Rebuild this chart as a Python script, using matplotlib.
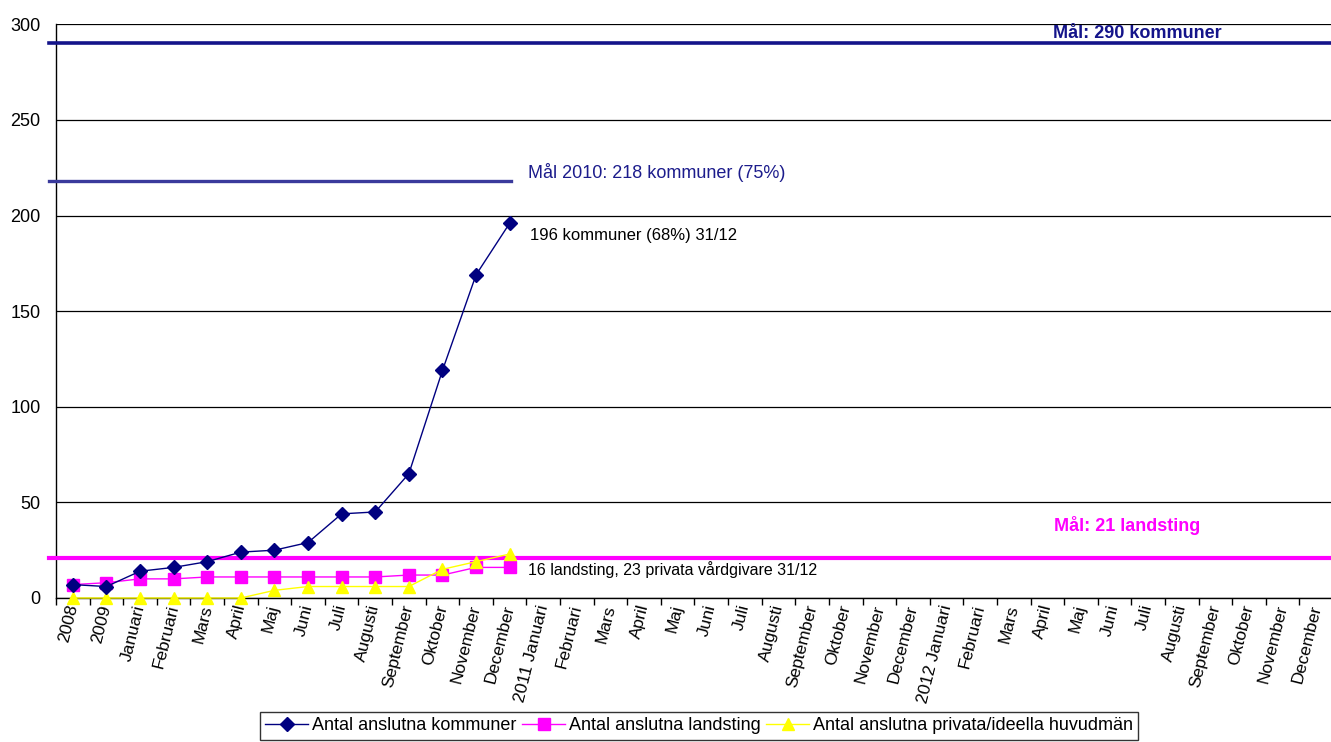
import numpy as np
import matplotlib
matplotlib.use('Agg')
import matplotlib.pyplot as plt

plt.rcParams['font.family'] = ['Liberation Sans', 'DejaVu Sans']

months = ['Januari', 'Februari', 'Mars', 'April', 'Maj', 'Juni', 'Juli',
          'Augusti', 'September', 'Oktober', 'November', 'December']
labels = (['2008', '2009'] + months
          + ['2011 ' + months[0]] + months[1:]
          + ['2012 ' + months[0]] + months[1:])

# anslutna huvudmän per period (2008 .. december 2010)
kommuner = [7, 6, 14, 16, 19, 24, 25, 29, 44, 45, 65, 119, 169, 196]
landsting = [7, 8, 10, 10, 11, 11, 11, 11, 11, 11, 12, 12, 16, 16]
privata = [0, 0, 0, 0, 0, 0, 4, 6, 6, 6, 6, 15, 19, 23]

goal_kommuner = 290
goal_kommuner_2010 = 218
goal_kommuner_2010_pct = 75
goal_landsting = 21

navy = '#000080'
goal_blue = '#14148a'
goal_blue_2010 = '#3a3a9c'
magenta = '#ff00ff'
yellow = '#ffff00'

fig = plt.figure(figsize=(13.31, 7.42), dpi=100)
ax = fig.add_axes([56 / 1331, 144 / 742, 1277 / 1331, 573.7 / 742])

x = np.arange(len(labels))
xs = x[:len(kommuner)]

ax.plot(xs, kommuner, color=navy, lw=1.0, marker='D', ms=7,
        mfc=navy, mec=navy, zorder=5, clip_on=False,
        label='Antal anslutna kommuner')
ax.plot(xs, landsting, color=magenta, lw=1.0, marker='s', ms=8,
        mfc=magenta, mec=magenta, zorder=4, clip_on=False,
        label='Antal anslutna landsting')
ax.plot(xs, privata, color=yellow, lw=1.0, marker='^', ms=9,
        mfc=yellow, mec=yellow, zorder=4, clip_on=False,
        label='Antal anslutna privata/ideella huvudmän')

# mållinjer
x0 = -0.71
x1 = len(labels) - 0.5
ax.plot([x0, x1], [goal_kommuner] * 2, color=goal_blue, lw=2.6,
        clip_on=False, zorder=3)
ax.plot([x0, xs[-1] + 0.05], [goal_kommuner_2010] * 2, color=goal_blue_2010,
        lw=2.4, clip_on=False, zorder=3)
ax.plot([x0, x1], [goal_landsting] * 2, color=magenta, lw=3.0,
        clip_on=False, zorder=3)

ax.annotate('Mål: %d kommuner' % goal_kommuner,
            xy=(0.847, goal_kommuner), xycoords=('axes fraction', 'data'),
            xytext=(0, 10), textcoords='offset pixels',
            ha='center', va='center', fontsize=13, fontweight='bold',
            color=goal_blue)
ax.annotate('Mål 2010: %d kommuner (%d%%)' % (goal_kommuner_2010,
                                             goal_kommuner_2010_pct),
            xy=(xs[-1], goal_kommuner_2010), xytext=(18, 9),
            textcoords='offset pixels', ha='left', va='center',
            fontsize=13, color='#1c1c8c')
ax.annotate('Mål: %d landsting' % goal_landsting,
            xy=(0.839, goal_landsting), xycoords=('axes fraction', 'data'),
            xytext=(0, 32), textcoords='offset pixels',
            ha='center', va='center', fontsize=13, fontweight='bold',
            color=magenta)

pct = round(100 * kommuner[-1] / goal_kommuner)
ax.annotate('%d kommuner (%d%%) 31/12' % (kommuner[-1], pct),
            xy=(xs[-1], kommuner[-1]), xytext=(20, -12),
            textcoords='offset pixels', ha='left', va='center', fontsize=12)
ax.annotate('%d landsting, %d privata vårdgivare 31/12'
            % (landsting[-1], privata[-1]),
            xy=(xs[-1], landsting[-1]), xytext=(18, -2),
            textcoords='offset pixels', ha='left', va='center', fontsize=11.5)

ax.set_xlim(-0.5, len(labels) - 0.5)
ax.set_ylim(0, 300)
ax.set_yticks(range(0, 301, 50))
ax.yaxis.grid(True, color='black', lw=0.9)
ax.set_axisbelow(True)
ax.tick_params(axis='y', length=0, pad=11, labelsize=13)

ax.set_xticks(x)
ax.set_xticklabels(labels, rotation=76, ha='right', va='center',
                   rotation_mode='anchor', fontsize=12.5)
ax.set_xticks(np.arange(-0.5, len(labels), 1), minor=True)
ax.tick_params(axis='x', which='major', length=0, pad=5)
ax.tick_params(axis='x', which='minor', length=5, width=1, color='black')

for side in ('top', 'right'):
    ax.spines[side].set_visible(False)
for side in ('left', 'bottom'):
    ax.spines[side].set_color('black')
    ax.spines[side].set_linewidth(1.0)

leg = fig.legend(loc='upper center', bbox_to_anchor=(699 / 1331, 1 - 712 / 742),
                 ncol=3, fontsize=13, frameon=True, fancybox=False,
                 edgecolor='black', handlelength=2.4, handletextpad=0.2,
                 columnspacing=0.3, borderpad=0.3, borderaxespad=0)
leg.get_frame().set_linewidth(1.0)

fig.savefig('out.png', dpi=100)
